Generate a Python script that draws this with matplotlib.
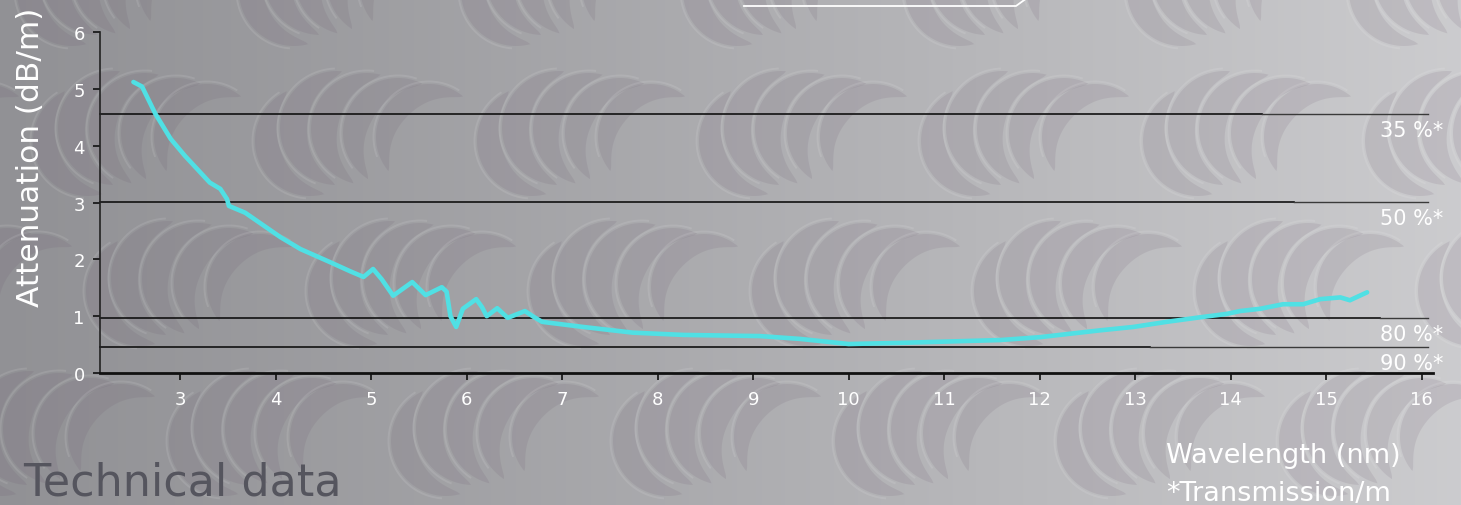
import numpy as np
import matplotlib
matplotlib.use("Agg")
import matplotlib.pyplot as plt
from matplotlib.lines import Line2D
from matplotlib.patches import Polygon

plt.rcParams['font.family'] = ['DejaVu Sans']

# ---- data ----
wavelength = [2.51, 2.60, 2.74, 2.90, 3.05, 3.31, 3.42, 3.49, 3.51, 3.68, 4.05, 4.26, 4.57,
              4.78, 4.92, 5.02, 5.11, 5.23, 5.43, 5.57, 5.74, 5.79, 5.83, 5.89, 5.96, 6.10,
              6.16, 6.21, 6.32, 6.43, 6.61, 6.70, 6.79, 7.22, 7.74, 8.27, 9.07, 9.49, 10.0,
              10.54, 11.59, 12.0, 12.63, 12.98, 13.33, 13.68, 13.96, 14.10, 14.31, 14.55,
              14.76, 14.94, 15.15, 15.25, 15.43]
attenuation = [5.12, 5.04, 4.56, 4.12, 3.82, 3.35, 3.24, 3.06, 2.94, 2.82, 2.39, 2.18, 1.95,
               1.79, 1.69, 1.83, 1.65, 1.36, 1.60, 1.37, 1.51, 1.43, 1.00, 0.81, 1.13, 1.30,
               1.16, 1.00, 1.14, 0.97, 1.09, 0.99, 0.90, 0.81, 0.71, 0.67, 0.65, 0.60, 0.51,
               0.53, 0.58, 0.63, 0.75, 0.81, 0.90, 0.98, 1.04, 1.09, 1.13, 1.21,
               1.21, 1.30, 1.33, 1.28, 1.42]
transmission_pct = [35, 50, 80, 90]
transmission_labels = ["35 %*", "50 %*", "80 %*", "90 %*"]
x_ticks = [3, 4, 5, 6, 7, 8, 9, 10, 11, 12, 13, 14, 15, 16]
y_ticks = [0, 1, 2, 3, 4, 5, 6]

W, H = 1461, 506
fig = plt.figure(figsize=(W / 100, H / 100), dpi=100)

# ---- decorative background (gradient + crescent pattern) ----
bg = fig.add_axes([0, 0, 1, 1])
grad = np.linspace(0, 1, 512)
c_left = np.array([0.57, 0.57, 0.585])
c_right = np.array([0.80, 0.80, 0.81])
img = c_left[None, :] + (c_right - c_left)[None, :] * (grad ** 1.1)[:, None]
bg.imshow(img[None, :, :], aspect='auto', extent=[0, W, H, 0], zorder=0)
bg.set_xlim(0, W)
bg.set_ylim(H, 0)
bg.axis('off')

CR_L = [0, 25, 56, 88, 121]
CR_CY = [70, 57, 58, 62, 66]
CR_R = [55, 57, 56, 55, 53]
CR_A1 = [115, 85, 76, 64, 50]
CR_A2 = [285, 268, 256, 237, 220]
CR_W = [24, 27, 27, 26, 23]

def motif(x0, y0):
    for k in range(5):
        R = CR_R[k]
        cx = x0 + CR_L[k] + R
        cy = y0 + CR_CY[k]
        t = np.radians(np.linspace(CR_A1[k], CR_A2[k], 80))
        s = np.linspace(0, 1, 80)
        r_in = R - CR_W[k] * np.sin(np.pi * s) ** 0.7
        xo, yo = cx + R * np.cos(t), cy - R * np.sin(t)
        xi, yi = cx + r_in[::-1] * np.cos(t[::-1]), cy - r_in[::-1] * np.sin(t[::-1])
        pts = np.column_stack([np.concatenate([xo, xi]), np.concatenate([yo, yi])])
        bg.add_patch(Polygon(pts, closed=True, facecolor='#634e66', edgecolor='none',
                             alpha=0.12, zorder=1))
        tt = np.radians(np.linspace(CR_A1[k] + 8, CR_A2[k] - 20, 60))
        bg.plot(cx + (R + 2.5) * np.cos(tt), cy - (R + 2.5) * np.sin(tt), color='white',
                alpha=0.10, lw=1.4, zorder=1)

row_tops = [-78, 72, 222, 372]
row_offsets = [461, 477, 530, 613]
period = 222
for top, off in zip(row_tops, row_offsets):
    x = off - period * int(np.ceil((off + 230) / period))
    while x < W + 10:
        motif(x, top)
        x += period

# decorative white line at top
fig.add_artist(Line2D([744 / W, 1016 / W, 1027 / W], [1 - 7 / H, 1 - 7 / H, 1 + 1 / H],
                      transform=fig.transFigure, color='white', lw=1.3))

# ---- chart ----
ax = fig.add_axes([100 / W, (H - 374) / H, (1433 - 100) / W, (374 - 33) / H])
ax.patch.set_alpha(0)
ax.set_xlim(2.16, 16.12)
ax.set_ylim(0, 6)

line_break = [14.33, 14.66, 15.57, 13.16]
for t, xb in zip(transmission_pct, line_break):
    att = -10 * np.log10(t / 100)
    ax.plot([2.16, xb], [att, att], color='#111111', lw=1.2, zorder=2, clip_on=False)
    ax.plot([xb, 16.07], [att, att], color='#3a3a3a', lw=1.0, zorder=2, clip_on=False)

ax.plot(wavelength, attenuation, color='#50e0e4', lw=3.3, solid_capstyle='round',
        solid_joinstyle='round', zorder=5)

for t, lab in zip(transmission_pct, transmission_labels):
    att = -10 * np.log10(t / 100)
    ax.annotate(lab, xy=(1.0, att), xycoords=('axes fraction', 'data'),
                xytext=(7.5, -4.5), textcoords='offset points', ha='right', va='top',
                color='white', fontsize=15, annotation_clip=False)

ax.set_xticks(x_ticks)
ax.set_yticks(y_ticks)
ax.tick_params(axis='x', colors='#111111', labelcolor='white', labelsize=13, length=5,
               width=1.2, pad=7, direction='out')
ax.tick_params(axis='y', colors='#111111', labelcolor='white', labelsize=13, length=5,
               width=1.2, pad=6, direction='out')
for s in ['top', 'right']:
    ax.spines[s].set_visible(False)
ax.spines['bottom'].set_linewidth(2.0)
ax.spines['bottom'].set_color('#111111')
ax.spines['left'].set_linewidth(1.2)
ax.spines['left'].set_color('#222222')

fig.text(31 / W, 1 - 157 / H, "Attenuation (dB/m)", rotation=90,
         ha='center', va='center', color='white', fontsize=22.5)
fig.text(1166 / W, 1 - 463 / H, "Wavelength (nm)", ha='left', va='baseline', color='white',
         fontsize=19.5)
fig.text(1166 / W, 1 - 501 / H, "*Transmission/m", ha='left', va='baseline', color='white',
         fontsize=19.5)
fig.text(23 / W, 1 - 505 / H, "Technical data", ha='left', va='bottom', color='#55555e',
         fontsize=32)

fig.savefig('out.png', dpi=100)
